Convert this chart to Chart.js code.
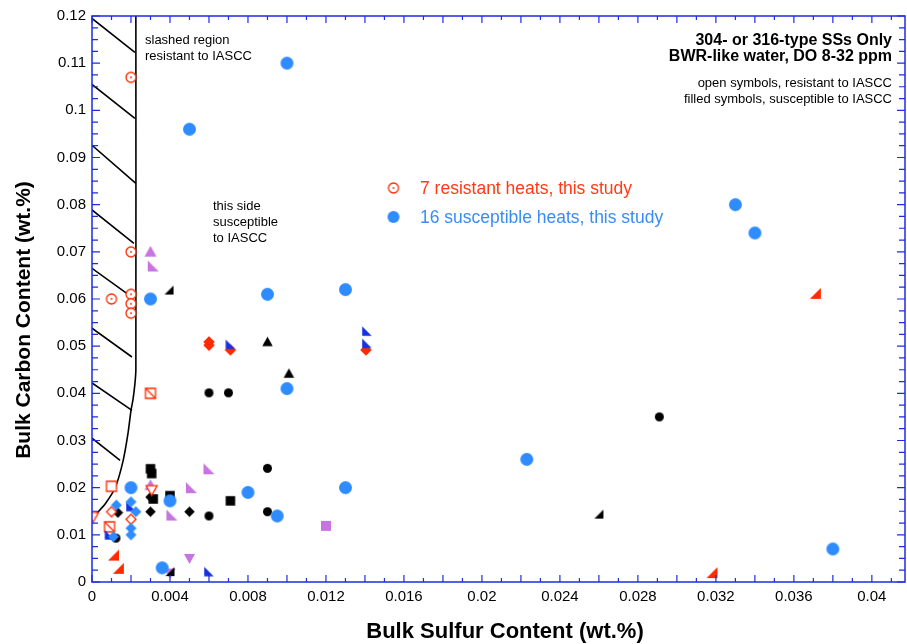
<!DOCTYPE html>
<html>
<head>
<meta charset="utf-8">
<script src="https://cdn.jsdelivr.net/npm/chart.js@4.4.1/dist/chart.umd.min.js"></script>
<style>
  html, body { margin: 0; padding: 0; background: #fff; }
</style>
</head>
<body>
<canvas id="chart" width="907" height="644"></canvas>
<script>
// tick labels
const xTickLabels = [0, 0.004, 0.008, 0.012, 0.016, 0.02, 0.024, 0.028, 0.032, 0.036, 0.04];
const yTickLabels = [0, 0.01, 0.02, 0.03, 0.04, 0.05, 0.06, 0.07, 0.08, 0.09, 0.1, 0.11, 0.12];

// this study
const resistantS = [0.002, 0.002, 0.001, 0.002, 0.002, 0.002];
const resistantC = [0.107, 0.070, 0.060, 0.061, 0.059, 0.057];
const susceptibleS = [0.010, 0.005, 0.033, 0.034, 0.003, 0.009, 0.013, 0.010, 0.0223, 0.013, 0.008, 0.0095, 0.038, 0.0036, 0.002, 0.004];
const susceptibleC = [0.110, 0.096, 0.080, 0.074, 0.060, 0.061, 0.062, 0.041, 0.026, 0.020, 0.019, 0.014, 0.007, 0.003, 0.020, 0.0172];

// literature heats
const blueDiamondS = [0.00125, 0.002, 0.00225, 0.002, 0.002, 0.0011];
const blueDiamondC = [0.0163, 0.017, 0.0149, 0.0114, 0.010, 0.0096];
const navyHalfS = [0.0141, 0.0141, 0.0071, 0.006, 0.002, 0.0009];
const navyHalfC = [0.0532, 0.0506, 0.0504, 0.0022, 0.016, 0.010];
const redOpenSquareS = [0.001];
const redOpenSquareC = [0.0203];
const redSlashSquareS = [0.003, 0.0009];
const redSlashSquareC = [0.040, 0.0117];
const redOpenDownS = [0.00005, 0.00306];
const redOpenDownC = [0.0138, 0.0195];
const redOpenDiamondS = [0.002, 0.001];
const redOpenDiamondC = [0.0133, 0.0149];
const redDiamondS = [0.006, 0.006, 0.0071, 0.01405];
const redDiamondC = [0.0509, 0.0502, 0.0492, 0.0492];
const redHalfS = [0.0011, 0.00135, 0.0318, 0.0371];
const redHalfC = [0.0057, 0.0029, 0.002, 0.0612];
const blackHalfS = [0.00395, 0.026, 0.004];
const blackHalfC = [0.0619, 0.0144, 0.0022];
const blackTriS = [0.009, 0.0101];
const blackTriC = [0.0509, 0.0442];
const blackDiamondS = [0.003, 0.003, 0.005, 0.00133];
const blackDiamondC = [0.018, 0.0149, 0.0149, 0.0147];
const blackSquareS = [0.003, 0.00306, 0.004, 0.0071, 0.00314];
const blackSquareC = [0.024, 0.023, 0.0183, 0.0172, 0.0176];
const blackCircleS = [0.006, 0.007, 0.0291, 0.009, 0.006, 0.009, 0.00123];
const blackCircleC = [0.0401, 0.0401, 0.035, 0.0241, 0.014, 0.0149, 0.0093];
const purpleTriS = [0.003, 0.003];
const purpleTriC = [0.070, 0.0205];
const purpleHalfS = [0.00314, 0.006, 0.0051, 0.0041];
const purpleHalfC = [0.067, 0.024, 0.020, 0.0142];
const purpleDownS = [0.005, 0.004];
const purpleDownC = [0.005, 0.0019];
const purpleSquareS = [0.012];
const purpleSquareC = [0.0119];

// boundary of the slashed (resistant) region
const boundaryS = [0.00225, 0.00225, 0.0022, 0.0021, 0.002, 0.00185, 0.0016, 0.0012, 0.0007, 0.0003, 0.00005];
const boundaryC = [0.12, 0.045, 0.042, 0.0386, 0.0364, 0.0316, 0.0258, 0.0201, 0.0167, 0.0148, 0.0138];
const hatchStartC = [0.1195, 0.1055, 0.0926, 0.0789, 0.0665, 0.0538, 0.0422, 0.0305];
const hatchEndS = [0.0022, 0.0022, 0.00225, 0.00215, 0.00205, 0.00205, 0.00205, 0.00144];
const hatchEndC = [0.1123, 0.0983, 0.0845, 0.0718, 0.0604, 0.0477, 0.0364, 0.0258];

const RED = '#ff2a00', BLUE = '#2f8cff', NAVY = '#1530e0', PURPLE = '#c774e0', AXIS = '#1d2de0';

function pts(xs, ys) { return xs.map((x, i) => ({ x: x, y: ys[i] })); }

function symbol(kind, color, size, open) {
  const s = Math.ceil(size + 4);
  const c = document.createElement('canvas');
  c.width = s; c.height = s;
  const g = c.getContext('2d');
  const m = s / 2, h = size / 2;
  g.fillStyle = open ? '#fff' : color;
  g.strokeStyle = color;
  g.lineWidth = 1.3;
  g.beginPath();
  if (kind === 'circle') g.arc(m, m, h, 0, Math.PI * 2);
  else if (kind === 'square') g.rect(m - h, m - h, size, size);
  else if (kind === 'diamond') { g.moveTo(m, m - h); g.lineTo(m + h, m); g.lineTo(m, m + h); g.lineTo(m - h, m); g.closePath(); }
  else if (kind === 'up') { g.moveTo(m, m - h); g.lineTo(m + h, m + h * 0.8); g.lineTo(m - h, m + h * 0.8); g.closePath(); }
  else if (kind === 'down') { g.moveTo(m, m + h); g.lineTo(m + h, m - h * 0.8); g.lineTo(m - h, m - h * 0.8); g.closePath(); }
  else if (kind === 'halfLeft') { g.moveTo(m - h, m - h); g.lineTo(m - h, m + h); g.lineTo(m + h, m + h); g.closePath(); }
  else if (kind === 'halfRight') { g.moveTo(m + h, m - h); g.lineTo(m + h, m + h); g.lineTo(m - h, m + h); g.closePath(); }
  g.fill();
  if (open) g.stroke();
  if (open && kind === 'circle') { g.beginPath(); g.arc(m, m, 0.9, 0, Math.PI * 2); g.fillStyle = color; g.fill(); }
  if (kind === 'slash') {
    g.beginPath(); g.rect(m - h, m - h, size, size); g.fillStyle = '#fff'; g.fill(); g.stroke();
    g.beginPath(); g.moveTo(m - h, m - h); g.lineTo(m + h, m + h); g.stroke();
  }
  return c;
}

function scatterSet(xs, ys, style) {
  return { data: pts(xs, ys), pointStyle: style, pointRadius: 5, pointHoverRadius: 5, showLine: false };
}

const hatchData = [];
hatchStartC.forEach((y0, i) => {
  hatchData.push({ x: 0, y: y0 }, { x: hatchEndS[i], y: hatchEndC[i] }, { x: null, y: null });
});

const datasets = [
  scatterSet(susceptibleS, susceptibleC, symbol('circle', BLUE, 13)),
  scatterSet(blueDiamondS, blueDiamondC, symbol('diamond', BLUE, 11)),
  scatterSet(navyHalfS, navyHalfC, symbol('halfLeft', NAVY, 9.5)),
  scatterSet(resistantS, resistantC, symbol('circle', RED, 10, true)),
  scatterSet(redOpenSquareS, redOpenSquareC, symbol('square', RED, 10, true)),
  scatterSet(redSlashSquareS, redSlashSquareC, symbol('slash', RED, 10)),
  scatterSet(redOpenDownS, redOpenDownC, symbol('down', RED, 11, true)),
  scatterSet(redOpenDiamondS, redOpenDiamondC, symbol('diamond', RED, 10, true)),
  scatterSet(blackDiamondS, blackDiamondC, symbol('diamond', '#000', 10.5)),
  scatterSet(blackSquareS, blackSquareC, symbol('square', '#000', 9.5)),
  scatterSet(blackCircleS, blackCircleC, symbol('circle', '#000', 9)),
  scatterSet(blackHalfS, blackHalfC, symbol('halfRight', '#000', 9)),
  scatterSet(blackTriS, blackTriC, symbol('up', '#000', 10.5)),
  scatterSet(redDiamondS, redDiamondC, symbol('diamond', RED, 11.5)),
  scatterSet(redHalfS, redHalfC, symbol('halfRight', RED, 11)),
  scatterSet(purpleTriS, purpleTriC, symbol('up', PURPLE, 12)),
  scatterSet(purpleHalfS, purpleHalfC, symbol('halfLeft', PURPLE, 11)),
  scatterSet(purpleDownS, purpleDownC, symbol('down', PURPLE, 11)),
  scatterSet(purpleSquareS, purpleSquareC, symbol('square', PURPLE, 10)),
  { data: pts(boundaryS, boundaryC), showLine: true, borderColor: '#000', borderWidth: 1.6, pointRadius: 0, tension: 0.2 },
  { data: hatchData, showLine: true, spanGaps: false, borderColor: '#000', borderWidth: 1.6, pointRadius: 0 }
];

const frame = {
  id: 'frame',
  afterDraw(chart) {
    const { ctx, chartArea: a, scales: { x, y } } = chart;
    ctx.save();
    ctx.strokeStyle = AXIS;
    ctx.lineWidth = 1.5;
    ctx.strokeRect(a.left, a.top, a.right - a.left, a.bottom - a.top);
    ctx.lineWidth = 1.2;
    ctx.beginPath();
    for (let i = 0; i <= 41; i++) {
      const px = x.getPixelForValue(i * 0.001);
      const len = i % 2 === 0 ? 7 : 4;
      ctx.moveTo(px, a.bottom); ctx.lineTo(px, a.bottom - len);
      ctx.moveTo(px, a.top); ctx.lineTo(px, a.top + len);
    }
    for (let i = 0; i <= 48; i++) {
      const py = y.getPixelForValue(i * 0.0025);
      const len = i % 4 === 0 ? 8 : 6;
      ctx.moveTo(a.left, py); ctx.lineTo(a.left + len, py);
      ctx.moveTo(a.right, py); ctx.lineTo(a.right - len, py);
    }
    ctx.stroke();

    // axis titles
    ctx.fillStyle = '#000';
    ctx.font = 'bold 22px "Liberation Sans", Arial, sans-serif';
    ctx.textAlign = 'center';
    ctx.textBaseline = 'alphabetic';
    ctx.fillText('Bulk Sulfur Content (wt.%)', 505, 638);
    ctx.save();
    ctx.translate(30, 320);
    ctx.rotate(-Math.PI / 2);
    ctx.font = 'bold 21px "Liberation Sans", Arial, sans-serif';
    ctx.fillText('Bulk Carbon Content (wt.%)', 0, 0);
    ctx.restore();

    // annotations
    ctx.textAlign = 'left';
    ctx.font = '13px "Liberation Sans", Arial, sans-serif';
    ctx.fillText('slashed region', 145, 44);
    ctx.fillText('resistant to IASCC', 145, 60);
    ctx.fillText('this side', 213, 210);
    ctx.fillText('susceptible', 213, 226);
    ctx.fillText('to IASCC', 213, 242);

    ctx.textAlign = 'right';
    ctx.font = 'bold 16px "Liberation Sans", Arial, sans-serif';
    ctx.fillText('304- or 316-type SSs Only', 892, 45);
    ctx.fillText('BWR-like water, DO 8-32 ppm', 892, 61);
    ctx.font = '13px "Liberation Sans", Arial, sans-serif';
    ctx.fillText('open symbols, resistant to IASCC', 892, 87);
    ctx.fillText('filled symbols, susceptible to IASCC', 892, 103);

    // legend
    ctx.textAlign = 'left';
    ctx.font = '17.5px "Liberation Sans", Arial, sans-serif';
    const openC = symbol('circle', RED, 10, true);
    ctx.drawImage(openC, 393.5 - openC.width / 2, 188 - openC.height / 2);
    ctx.fillStyle = '#ff3a14';
    ctx.fillText('7 resistant heats, this study', 420, 194);
    const fillC = symbol('circle', BLUE, 12);
    ctx.drawImage(fillC, 393.5 - fillC.width / 2, 217 - fillC.height / 2);
    ctx.fillStyle = '#3a8cf5';
    ctx.fillText('16 susceptible heats, this study', 420, 223);
    ctx.restore();
  }
};

const tickFont = { family: '"Liberation Sans", Arial, sans-serif', size: 15 };

new Chart(document.getElementById('chart'), {
  type: 'scatter',
  data: { datasets: datasets },
  options: {
    responsive: false,
    animation: false,
    events: [],
    layout: { autoPadding: false, padding: { top: 16, right: 2, left: 0, bottom: 0 } },
    plugins: { legend: { display: false }, tooltip: { enabled: false } },
    scales: {
      x: {
        type: 'linear', min: 0, max: 0.0417,
        grid: { display: false, drawTicks: false },
        border: { display: false },
        afterBuildTicks: s => { s.ticks = xTickLabels.map(v => ({ value: v })); },
        afterFit: s => { s.height = 62; s.paddingRight = 0; s.paddingLeft = 0; },
        ticks: { color: '#000', font: tickFont, padding: 6, maxRotation: 0, autoSkip: false,
          callback: v => String(+v.toFixed(4)) }
      },
      y: {
        type: 'linear', min: 0, max: 0.12,
        grid: { display: false, drawTicks: false },
        border: { display: false },
        afterBuildTicks: s => { s.ticks = yTickLabels.map(v => ({ value: v })); },
        afterFit: s => { s.width = 92; },
        ticks: { color: '#000', font: tickFont, padding: 6, autoSkip: false,
          callback: v => String(+v.toFixed(4)) }
      }
    }
  },
  plugins: [frame]
});
</script>
</body>
</html>
